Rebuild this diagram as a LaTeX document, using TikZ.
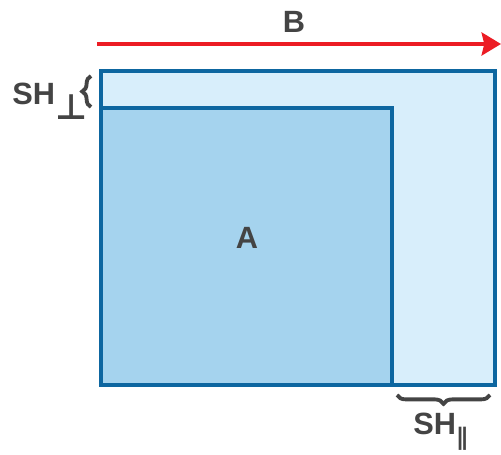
\documentclass[tikz,border=0pt]{standalone}
\usepackage{fontspec}
\setmainfont{Liberation Sans}
\newfontfamily\symbfont{DejaVu Sans}
\usetikzlibrary{arrows.meta,decorations.pathreplacing}
\definecolor{frameblue}{HTML}{0D66A0}
\definecolor{paleblue}{HTML}{D8EEFB}
\definecolor{midblue}{HTML}{A5D3EE}
\definecolor{fieldred}{HTML}{EC1C24}
\definecolor{labelgray}{HTML}{444444}
\tikzset{
  box/.style={draw=frameblue, line width=2.2pt},
  lbl/.style={text=labelgray, font=\fontsize{17.5}{20}\selectfont\bfseries, inner sep=0pt},
  curly/.style={decorate, line width=2.2pt, labelgray}
}

\begin{document}
\begin{tikzpicture}[x=0.02cm, y=-0.02cm, >=Triangle]
        \useasboundingbox (0,0) rectangle (501,455);
        % feld B
        \draw[->, fieldred, line width=2.4pt, >={Stealth[length=11pt, width=13pt, inset=1.5pt]}] (97,44) -- (501,44);
        \node[lbl] (b) at (294,22) {B};
        
        % aeusseres und inneres rechteck
        \draw[box, fill=paleblue] (101,71) rectangle (495,385);
        \draw[box, fill=midblue] (101,108) rectangle (392,385);
        \node[lbl] (a) at (247,238) {A};
        
        % klammern
        \draw[curly, decoration={brace, amplitude=5pt}] (91,107) -- (91,76);
        \node[lbl, anchor=base west] (shperp) at (12,105)
          {SH\raisebox{-8.5pt}{\symbfont\bfseries\fontsize{20}{20}\selectfont ⊥}};
        \draw[curly, decoration={brace, amplitude=5pt, mirror}] (397,395) -- (490,395);
        \node[lbl, anchor=base west] (shpar) at (413,435)
          {SH\raisebox{-6pt}{\symbfont\bfseries\fontsize{13.5}{13.5}\selectfont ∥}};
    \end{tikzpicture}
\end{document}
